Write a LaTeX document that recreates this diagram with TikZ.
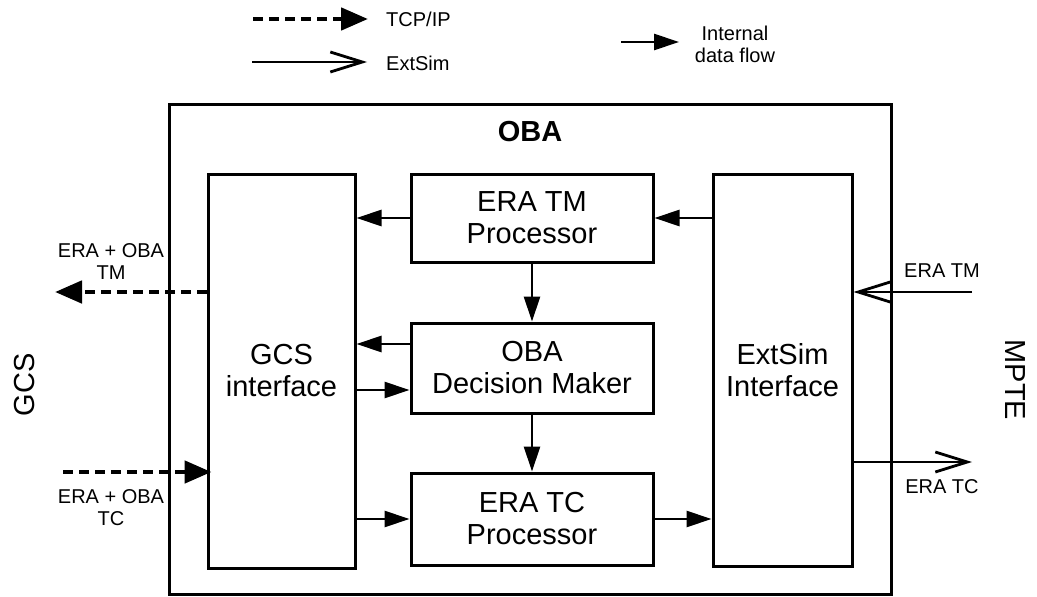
\documentclass[tikz,border=0pt]{standalone}
\usepackage{fontspec}
\setmainfont{Liberation Sans}
\usepackage{tikz}
\usetikzlibrary{positioning,arrows.meta}

\begin{document}
\begin{tikzpicture}[x=1pt,y=-1pt,
  blk/.style={draw,line width=3pt,align=center,inner sep=0pt,font=\fontsize{29}{32}\selectfont},
  lbl/.style={align=center,inner sep=0pt,font=\fontsize{20}{22}\selectfont},
  flow/.style={line width=2.8pt,-{Triangle[length=25pt,width=16pt]}},
  tcp/.style={line width=4.8pt,dash pattern=on 10pt off 6pt,-{Triangle[length=27pt,width=22pt]}},
  ext/.style={line width=2.8pt,-{Straight Barb[length=32pt,width=20pt]}}]
\useasboundingbox (0,0) rectangle (1037,597);
% legend
\coordinate (tcpa) at (253,19);
\coordinate (tcpb) at (368,19);
\coordinate (exta) at (252,62);
\coordinate (extb) at (367,62);
\coordinate (flowa) at (621,42);
\coordinate (flowb) at (679,42);
\draw [tcp] (tcpa) -- (tcpb);
\draw [ext] (exta) -- (extb);
\draw [flow] (flowa) -- (flowb);
\node [lbl,anchor=west] (tcptxt) at (386,19) {TCP/IP};
\node [lbl,anchor=west] (exttxt) at (386,63) {ExtSim};
\node [lbl] (flowtxt) at (735,44) {Internal\\data flow};
% OBA
\node [blk,minimum width=722,minimum height=490] (oba) at (530,349) {};
\node [font=\fontsize{29}{32}\selectfont\bfseries,inner sep=0pt] (obatitle) at (530,132) {OBA};
\node [blk,minimum width=147,minimum height=394] (gcs) at (281.5,371) {GCS\\interface};
\node [blk,minimum width=139,minimum height=392] (extsim) at (782.5,370) {ExtSim\\Interface};
\node [blk,minimum width=242,minimum height=88] (tmproc) at (532,218) {ERA TM\\Processor};
\node [blk,minimum width=242,minimum height=90] (decision) at (532,368) {OBA\\Decision Maker};
\node [blk,minimum width=242,minimum height=92] (tcproc) at (532,519) {ERA TC\\Processor};
% internal data flow
\coordinate (dmout) at ([yshift=24pt]decision.west);
\coordinate (dmin) at ([yshift=-22pt]decision.west);
\draw [flow] (tmproc.west) -- (tmproc.west -| gcs.east);
\draw [flow] (tmproc.east -| extsim.west) -- (tmproc.east);
\draw [flow] (tmproc.south) -- (decision.north);
\draw [flow] (dmout) -- (dmout -| gcs.east);
\draw [flow] (dmin -| gcs.east) -- (dmin);
\draw [flow] (decision.south) -- (tcproc.north);
\draw [flow] (tcproc.west -| gcs.east) -- (tcproc.west);
\draw [flow] (tcproc.east) -- (tcproc.east -| extsim.west);
% GCS side
\coordinate (tmout) at (55,292);
\coordinate (tcin) at (63,472);
\draw [tcp] (tmout -| gcs.west) -- (tmout);
\draw [tcp,shorten >=-5pt] (tcin) -- (tcin -| gcs.west);
\node [lbl] (tmlbl) at (111,262) {ERA + OBA\\TM};
\node [lbl] (tclbl) at (111,508) {ERA + OBA\\TC};
\node [font=\fontsize{29}{32}\selectfont,rotate=90,inner sep=0pt] (gcstxt) at (25,385) {GCS};
% MPTE side
\coordinate (mptetm) at (972,292);
\coordinate (mptetc) at (972,462);
\draw [ext] (mptetm) -- (mptetm -| extsim.east);
\draw [ext] (mptetc -| extsim.east) -- (mptetc);
\node [lbl] (mtmlbl) at (942,271) {ERA TM};
\node [lbl] (mtclbl) at (942,487) {ERA TC};
\node [font=\fontsize{29}{32}\selectfont,rotate=-90,inner sep=0pt] (mptetxt) at (1015,380) {MPTE};
\end{tikzpicture}
\end{document}
